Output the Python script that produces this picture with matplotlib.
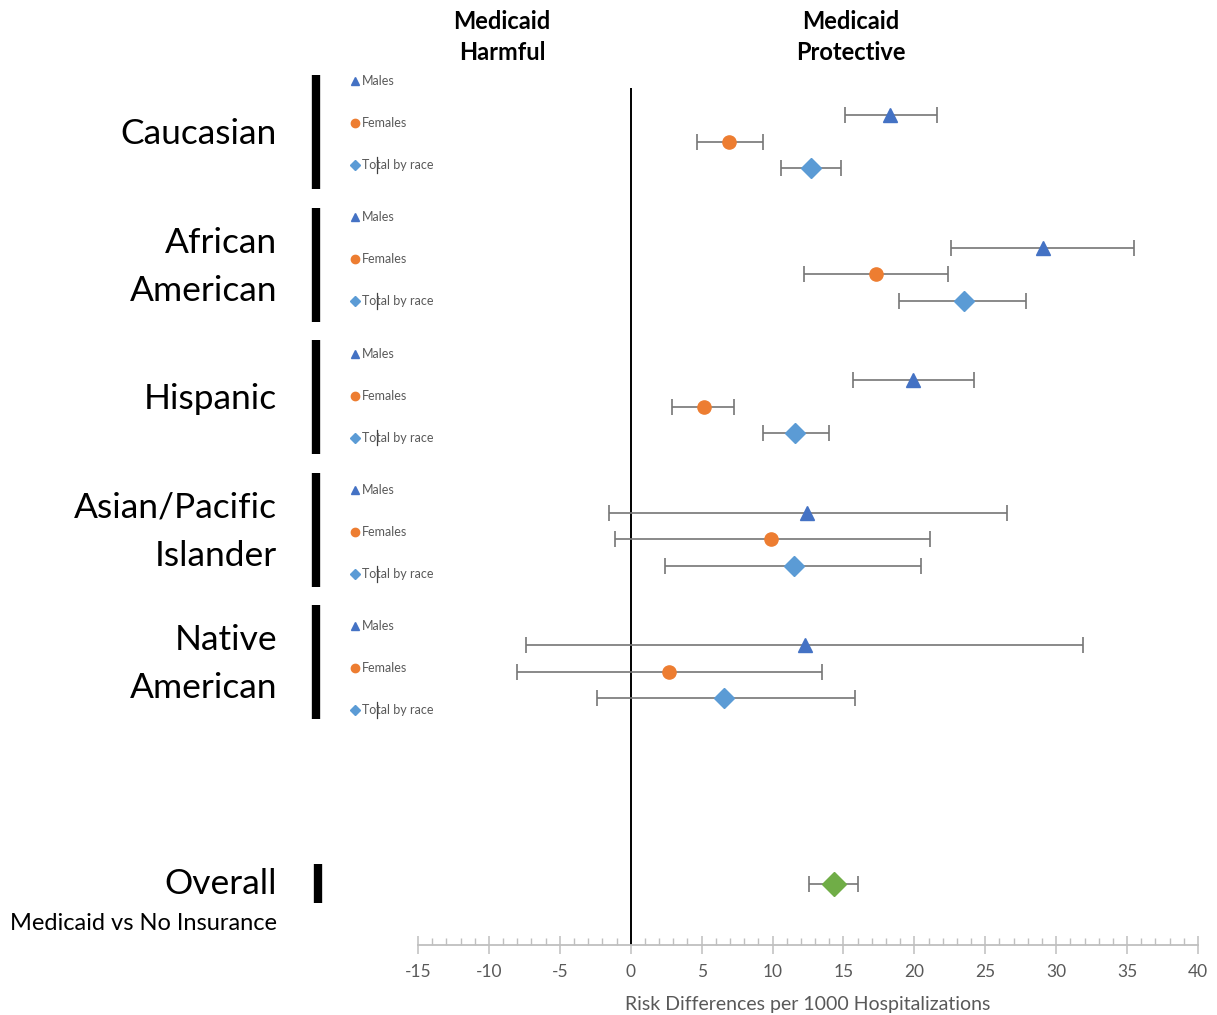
import matplotlib
matplotlib.use("Agg")
import matplotlib.pyplot as plt
from matplotlib.transforms import blended_transform_factory
from matplotlib.ticker import MultipleLocator

plt.rcParams['font.family'] = ['Lato', 'DejaVu Sans']
plt.rcParams['axes.unicode_minus'] = False

# risk differences per 1000 hospitalizations, with 95% CI
groups = ["Caucasian", "African\nAmerican", "Hispanic",
          "Asian/Pacific\nIslander", "Native\nAmerican"]
series = ["Males", "Females", "Total by race"]

males_rd = [18.3, 29.1, 19.9, 12.4, 12.3]
males_lo = [15.1, 22.6, 15.7, -1.5, -7.4]
males_hi = [21.6, 35.5, 24.2, 26.5, 31.9]

females_rd = [6.9, 17.3, 5.2, 9.9, 2.7]
females_lo = [4.7, 12.2, 2.9, -1.1, -8.0]
females_hi = [9.3, 22.4, 7.3, 21.1, 13.5]

total_rd = [12.7, 23.5, 11.6, 11.5, 6.6]
total_lo = [10.6, 18.9, 9.3, 2.4, -2.4]
total_hi = [14.8, 27.9, 14.0, 20.5, 15.8]

overall_rd = 14.3
overall_lo = 12.6
overall_hi = 16.0

W, H = 1217, 1015
fig = plt.figure(figsize=(W / 100, H / 100), dpi=100)
ax = fig.add_axes([418 / W, 1 - 945 / H, 780 / W, (945 - 88) / H])

styles = [("^", "#4472C4", 9.5), ("o", "#ED7D31", 9.5), ("D", "#5B9BD5", 10.5)]
vals = [(males_rd, males_lo, males_hi),
        (females_rd, females_lo, females_hi),
        (total_rd, total_lo, total_hi)]

for k, ((rd, lo, hi), (mk, col, ms)) in enumerate(zip(vals, styles)):
    for g in range(len(groups)):
        y = 5 * g + k
        ax.errorbar(rd[g], y, xerr=[[rd[g] - lo[g]], [hi[g] - rd[g]]],
                    fmt=mk, color=col, ms=ms, mec=col, ecolor="#767676",
                    elinewidth=1.2, capsize=5.5, capthick=1.2, zorder=3)

overall_y = 29
ax.errorbar(overall_rd, overall_y,
            xerr=[[overall_rd - overall_lo], [overall_hi - overall_rd]],
            fmt="D", color="#70AD47", ms=12.5, mec="#70AD47", ecolor="#767676",
            elinewidth=1.2, capsize=5.5, capthick=1.2, zorder=3)

ax.axvline(0, color="black", lw=1.4, zorder=2)

ax.set_xlim(-15, 40)
ax.set_ylim(31.32, -1.02)
ax.set_yticks([])
ax.xaxis.set_major_locator(MultipleLocator(5))
ax.xaxis.set_minor_locator(MultipleLocator(1))
for s in ["top", "left", "right"]:
    ax.spines[s].set_visible(False)
ax.spines["bottom"].set_color("#BFBFBF")
ax.spines["bottom"].set_linewidth(1.3)
ax.tick_params(axis="x", which="major", direction="inout", length=13,
               width=1.1, color="#BFBFBF", labelsize=12.5,
               labelcolor="#595959", pad=7)
ax.tick_params(axis="x", which="minor", direction="in", length=5,
               width=1.0, color="#BFBFBF")
ax.set_xlabel("Risk Differences per 1000 Hospitalizations", fontsize=14,
              color="#595959", labelpad=12)

# left-hand labels, bars and per-group key
tr = blended_transform_factory(ax.transAxes, ax.transData)
def px(x):
    return (x - 418) / 780

for g, name in enumerate(groups):
    top = 5 * g - 1.5
    bot = 5 * g + 2.8
    ax.plot([px(316), px(316)], [top, bot], color="black", lw=6,
            solid_capstyle="butt", transform=tr, clip_on=False)
    ax.text(px(277), (top + bot) / 2 + 0.08, name, transform=tr, ha="right",
            va="center", fontsize=25.5, linespacing=1.62)
    base = 5 * g - 1.28 + 0.14 * g
    for k, (lab, (mk, col, ms)) in enumerate(zip(series, styles)):
        yk = base + k * 1.585
        ax.plot([px(355)], [yk], marker=mk, color=col,
                ms=6 if mk != "D" else 5, transform=tr, clip_on=False)
        ax.text(px(362), yk, lab, transform=tr, ha="left", va="center",
                fontsize=9, color="#595959")
    # stray cursor mark left in the "Total by race" labels
    yc = base + 2 * 1.585
    ax.plot([px(376.5), px(376.5)], [yc - 0.3, yc + 0.3], color="#404040",
            lw=0.9, transform=tr, clip_on=False)

ax.plot([px(318), px(318)], [overall_y - 0.75, overall_y + 0.75],
        color="black", lw=6, solid_capstyle="butt", transform=tr,
        clip_on=False)
ax.text(px(277), overall_y, "Overall", transform=tr, ha="right",
        va="center", fontsize=25.5)
ax.text(px(277), overall_y + 1.5, "Medicaid vs No Insurance", transform=tr,
        ha="right", va="center", fontsize=17)

fig.text(502 / W, 1 - 37 / H, "Medicaid\nHarmful", ha="center", va="center",
         fontsize=17, fontweight="bold", linespacing=1.4)
fig.text(851 / W, 1 - 37 / H, "Medicaid\nProtective", ha="center",
         va="center", fontsize=17, fontweight="bold", linespacing=1.4)

fig.savefig("out.png", dpi=100, facecolor="white")
